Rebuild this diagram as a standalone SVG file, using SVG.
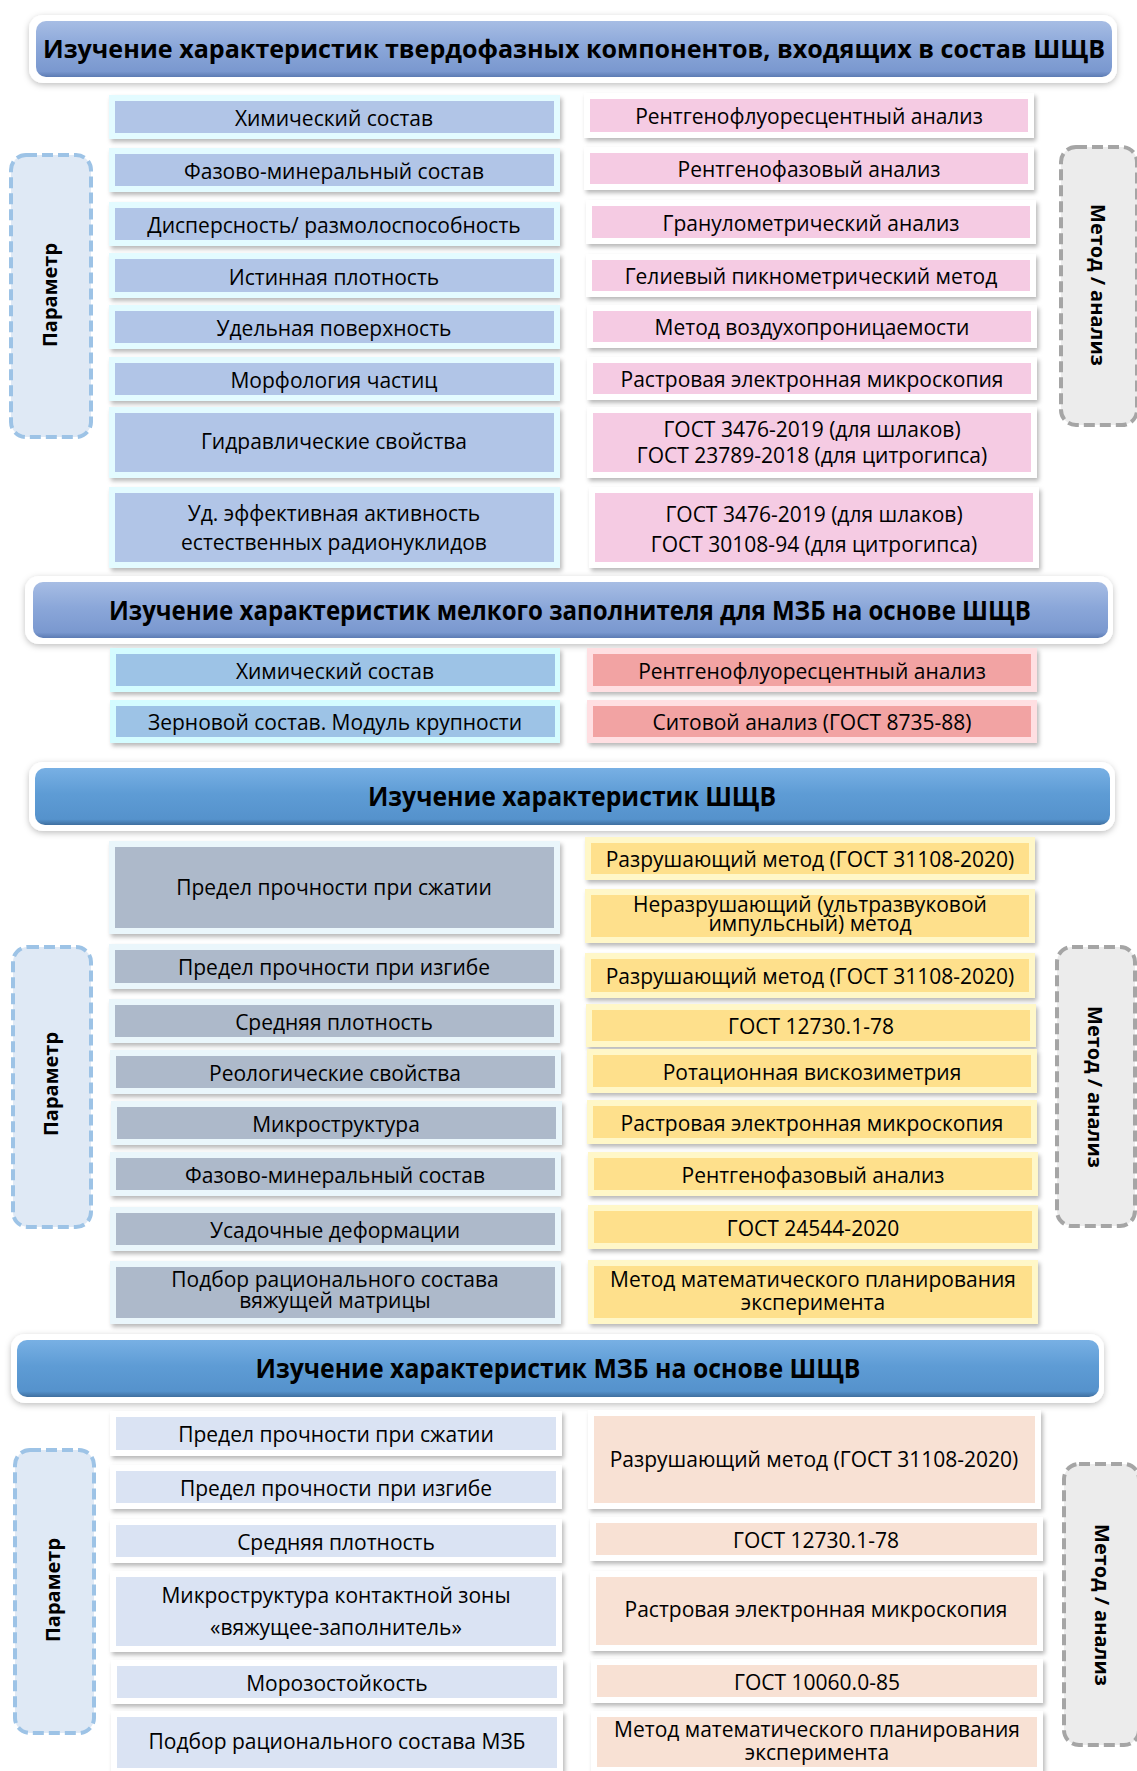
<svg xmlns="http://www.w3.org/2000/svg" width="1137" height="1771" viewBox="0 0 1137 1771">
<defs>
<filter id="sh" x="-5%" y="-30%" width="112%" height="170%"><feDropShadow dx="2" dy="3" stdDeviation="2" flood-color="#000" flood-opacity="0.28"/></filter>
<filter id="tsh" x="-3%" y="-30%" width="106%" height="170%"><feDropShadow dx="0" dy="2" stdDeviation="3" flood-color="#000" flood-opacity="0.25"/></filter>
<linearGradient id="g1" x1="0" y1="0" x2="0" y2="1"><stop offset="0" stop-color="#a7bde4"/><stop offset="0.45" stop-color="#8ba7d9"/><stop offset="0.9" stop-color="#7a98cf"/><stop offset="1" stop-color="#5c7bb3"/></linearGradient>
<linearGradient id="g2" x1="0" y1="0" x2="0" y2="1"><stop offset="0" stop-color="#78b0e4"/><stop offset="0.45" stop-color="#5e9cd5"/><stop offset="0.9" stop-color="#5592cc"/><stop offset="1" stop-color="#3f6f9f"/></linearGradient>
<style>
text{font-family:"Open Sans","Noto Sans","DejaVu Sans",sans-serif;fill:#000}
.t{font-size:21px;text-anchor:middle}
.h{font-size:26px;font-weight:bold;text-anchor:middle}
.v{font-size:20px;font-weight:bold;text-anchor:middle}
.frame{fill:#fff;filter:url(#tsh)}
.fr{filter:url(#sh)}
.dp{fill:#dfe9f5;stroke:#9dc3e6;stroke-width:4;stroke-dasharray:11 5}
.dm{fill:#ececec;stroke:#a5a5a5;stroke-width:4;stroke-dasharray:11 5}
.c1L{fill:#b1c5e7}.o1L{fill:#e3fbff}
.c1R{fill:#f5cbe3}.o1R{fill:#ffffff}
.c2L{fill:#9dc3e6}.o2L{fill:#d4fcff}
.c2R{fill:#f2a3a3}.o2R{fill:#ffdfe2}
.c3L{fill:#adb9ca}.o3L{fill:#eaf6fb}
.c3R{fill:#fee08c}.o3R{fill:#fff7c8}
.c4L{fill:#dae3f3}.o4L{fill:#ffffff}
.c4R{fill:#f8e1d4}.o4R{fill:#ffffff}
</style>
</defs>
<rect width="1137" height="1771" fill="#fff"/>

<!-- Section 1 -->
<g id="title1"><rect class="frame" x="29" y="15" width="1088" height="68" rx="14"/><rect x="36" y="21" width="1076" height="56" rx="10" fill="url(#g1)"/><text class="h" style="font-size:24.5px" x="574" y="58" textLength="1062" lengthAdjust="spacingAndGlyphs">Изучение характеристик твердофазных компонентов, входящих в состав ШЩВ</text></g>

<g id="param1"><rect class="dp" x="11" y="155" width="80" height="282" rx="15"/><text class="v" transform="translate(57,295) rotate(-90)">Параметр</text></g>
<g id="method1"><rect class="dm" x="1061" y="147" width="76" height="278" rx="15"/><text class="v" transform="translate(1091,285) rotate(90)">Метод / анализ</text></g>

<g id="s1l1"><rect class="o1L fr" x="109" y="95" width="451" height="44"/><rect class="c1L" x="115" y="101" width="439" height="32"/><text class="t" x="334" y="126">Химический состав</text></g>
<g id="s1l2"><rect class="o1L fr" x="109" y="148" width="451" height="44"/><rect class="c1L" x="115" y="154" width="439" height="32"/><text class="t" x="334" y="179">Фазово-минеральный состав</text></g>
<g id="s1l3"><rect class="o1L fr" x="109" y="202" width="451" height="44"/><rect class="c1L" x="115" y="208" width="439" height="32"/><text class="t" x="334" y="233">Дисперсность/ размолоспособность</text></g>
<g id="s1l4"><rect class="o1L fr" x="109" y="253" width="451" height="45"/><rect class="c1L" x="115" y="259" width="439" height="33"/><text class="t" x="334" y="285">Истинная плотность</text></g>
<g id="s1l5"><rect class="o1L fr" x="109" y="305" width="451" height="44"/><rect class="c1L" x="115" y="311" width="439" height="32"/><text class="t" x="334" y="336">Удельная поверхность</text></g>
<g id="s1l6"><rect class="o1L fr" x="109" y="357" width="451" height="44"/><rect class="c1L" x="115" y="363" width="439" height="32"/><text class="t" x="334" y="388">Морфология частиц</text></g>
<g id="s1l7"><rect class="o1L fr" x="109" y="407" width="451" height="71"/><rect class="c1L" x="115" y="413" width="439" height="59"/><text class="t" x="334" y="449">Гидравлические свойства</text></g>
<g id="s1l8"><rect class="o1L fr" x="109" y="487" width="451" height="81"/><rect class="c1L" x="115" y="493" width="439" height="69"/><text class="t" x="334" y="521">Уд. эффективная активность</text><text class="t" x="334" y="550">естественных радионуклидов</text></g>

<g id="s1r1"><rect class="o1R fr" x="584" y="93" width="450" height="45"/><rect class="c1R" x="590" y="99" width="438" height="33"/><text class="t" x="809" y="124">Рентгенофлуоресцентный анализ</text></g>
<g id="s1r2"><rect class="o1R fr" x="584" y="147" width="450" height="43"/><rect class="c1R" x="590" y="153" width="438" height="31"/><text class="t" x="809" y="177">Рентгенофазовый анализ</text></g>
<g id="s1r3"><rect class="o1R fr" x="586" y="200" width="450" height="44"/><rect class="c1R" x="592" y="206" width="438" height="32"/><text class="t" x="811" y="231">Гранулометрический анализ</text></g>
<g id="s1r4"><rect class="o1R fr" x="586" y="254" width="450" height="43"/><rect class="c1R" x="592" y="260" width="438" height="31"/><text class="t" x="811" y="284">Гелиевый пикнометрический метод</text></g>
<g id="s1r5"><rect class="o1R fr" x="587" y="305" width="450" height="43"/><rect class="c1R" x="593" y="311" width="438" height="31"/><text class="t" x="812" y="335">Метод воздухопроницаемости</text></g>
<g id="s1r6"><rect class="o1R fr" x="587" y="357" width="450" height="43"/><rect class="c1R" x="593" y="363" width="438" height="31"/><text class="t" x="812" y="387">Растровая электронная микроскопия</text></g>
<g id="s1r7"><rect class="o1R fr" x="587" y="407" width="450" height="71"/><rect class="c1R" x="593" y="413" width="438" height="59"/><text class="t" x="812" y="437">ГОСТ 3476-2019 (для шлаков)</text><text class="t" x="812" y="463">ГОСТ 23789-2018 (для цитрогипса)</text></g>
<g id="s1r8"><rect class="o1R fr" x="589" y="487" width="450" height="81"/><rect class="c1R" x="595" y="493" width="438" height="69"/><text class="t" x="814" y="522">ГОСТ 3476-2019 (для шлаков)</text><text class="t" x="814" y="552">ГОСТ 30108-94 (для цитрогипса)</text></g>

<!-- Section 2 -->
<g id="title2"><rect class="frame" x="25" y="576" width="1088" height="68" rx="14"/><rect x="33" y="582" width="1075" height="56" rx="10" fill="url(#g1)"/><text class="h" x="570" y="620" textLength="922" lengthAdjust="spacingAndGlyphs">Изучение характеристик мелкого заполнителя для МЗБ на основе ШЩВ</text></g>

<g id="s2l1"><rect class="o2L fr" x="110" y="648" width="450" height="44"/><rect class="c2L" x="116" y="654" width="439" height="32"/><text class="t" x="335" y="679">Химический состав</text></g>
<g id="s2l2"><rect class="o2L fr" x="110" y="700" width="450" height="43"/><rect class="c2L" x="116" y="706" width="439" height="31"/><text class="t" x="335" y="730">Зерновой состав. Модуль крупности</text></g>
<g id="s2r1"><rect class="o2R fr" x="587" y="648" width="450" height="44"/><rect class="c2R" x="593" y="654" width="438" height="32"/><text class="t" x="812" y="679">Рентгенофлуоресцентный анализ</text></g>
<g id="s2r2"><rect class="o2R fr" x="587" y="700" width="450" height="43"/><rect class="c2R" x="593" y="706" width="438" height="31"/><text class="t" x="812" y="730">Ситовой анализ (ГОСТ 8735-88)</text></g>

<!-- Section 3 -->
<g id="title3"><rect class="frame" x="29" y="762" width="1086" height="69" rx="14"/><rect x="35" y="768" width="1075" height="57" rx="10" fill="url(#g2)"/><text class="h" x="572" y="806" textLength="408" lengthAdjust="spacingAndGlyphs">Изучение характеристик ШЩВ</text></g>

<g id="param3"><rect class="dp" x="13" y="947" width="78" height="280" rx="15"/><text class="v" transform="translate(58,1084) rotate(-90)">Параметр</text></g>
<g id="method3"><rect class="dm" x="1057" y="947" width="78" height="279" rx="15"/><text class="v" transform="translate(1088,1087) rotate(90)">Метод / анализ</text></g>

<g id="s3l1"><rect class="o3L fr" x="109" y="841" width="451" height="93"/><rect class="c3L" x="115" y="847" width="439" height="81"/><text class="t" x="334" y="895">Предел прочности при сжатии</text></g>
<g id="s3l2"><rect class="o3L fr" x="109" y="944" width="451" height="45"/><rect class="c3L" x="115" y="950" width="439" height="33"/><text class="t" x="334" y="975">Предел прочности при изгибе</text></g>
<g id="s3l3"><rect class="o3L fr" x="109" y="999" width="451" height="44"/><rect class="c3L" x="115" y="1005" width="439" height="32"/><text class="t" x="334" y="1030">Средняя плотность</text></g>
<g id="s3l4"><rect class="o3L fr" x="110" y="1050" width="451" height="44"/><rect class="c3L" x="116" y="1056" width="439" height="32"/><text class="t" x="335" y="1081">Реологические свойства</text></g>
<g id="s3l5"><rect class="o3L fr" x="111" y="1101" width="451" height="44"/><rect class="c3L" x="117" y="1107" width="439" height="32"/><text class="t" x="336" y="1132">Микроструктура</text></g>
<g id="s3l6"><rect class="o3L fr" x="110" y="1152" width="451" height="44"/><rect class="c3L" x="116" y="1158" width="439" height="32"/><text class="t" x="335" y="1183">Фазово-минеральный состав</text></g>
<g id="s3l7"><rect class="o3L fr" x="110" y="1207" width="451" height="44"/><rect class="c3L" x="116" y="1213" width="439" height="32"/><text class="t" x="335" y="1238">Усадочные деформации</text></g>
<g id="s3l8"><rect class="o3L fr" x="110" y="1261" width="451" height="63"/><rect class="c3L" x="116" y="1267" width="439" height="51"/><text class="t" x="335" y="1287">Подбор рационального состава</text><text class="t" x="335" y="1308">вяжущей матрицы</text></g>

<g id="s3r1"><rect class="o3R fr" x="585" y="837" width="450" height="43"/><rect class="c3R" x="591" y="843" width="438" height="31"/><text class="t" x="810" y="867">Разрушающий метод (ГОСТ 31108-2020)</text></g>
<g id="s3r2"><rect class="o3R fr" x="585" y="889" width="450" height="54"/><rect class="c3R" x="591" y="895" width="438" height="42"/><text class="t" x="810" y="912">Неразрушающий (ультразвуковой</text><text class="t" x="810" y="931">импульсный) метод</text></g>
<g id="s3r3"><rect class="o3R fr" x="585" y="953" width="450" height="45"/><rect class="c3R" x="591" y="959" width="438" height="33"/><text class="t" x="810" y="984">Разрушающий метод (ГОСТ 31108-2020)</text></g>
<g id="s3r4"><rect class="o3R fr" x="586" y="1004" width="450" height="43"/><rect class="c3R" x="592" y="1010" width="438" height="31"/><text class="t" x="811" y="1034">ГОСТ 12730.1-78</text></g>
<g id="s3r5"><rect class="o3R fr" x="587" y="1049" width="450" height="44"/><rect class="c3R" x="593" y="1055" width="438" height="32"/><text class="t" x="812" y="1080">Ротационная вискозиметрия</text></g>
<g id="s3r6"><rect class="o3R fr" x="587" y="1100" width="450" height="44"/><rect class="c3R" x="593" y="1106" width="438" height="32"/><text class="t" x="812" y="1131">Растровая электронная микроскопия</text></g>
<g id="s3r7"><rect class="o3R fr" x="588" y="1152" width="450" height="44"/><rect class="c3R" x="594" y="1158" width="438" height="32"/><text class="t" x="813" y="1183">Рентгенофазовый анализ</text></g>
<g id="s3r8"><rect class="o3R fr" x="588" y="1205" width="450" height="44"/><rect class="c3R" x="594" y="1211" width="438" height="32"/><text class="t" x="813" y="1236">ГОСТ 24544-2020</text></g>
<g id="s3r9"><rect class="o3R fr" x="588" y="1260" width="450" height="64"/><rect class="c3R" x="594" y="1266" width="438" height="52"/><text class="t" x="813" y="1287">Метод математического планирования</text><text class="t" x="813" y="1310">эксперимента</text></g>

<!-- Section 4 -->
<g id="title4"><rect class="frame" x="11" y="1334" width="1093" height="69" rx="14"/><rect x="17" y="1340" width="1082" height="57" rx="10" fill="url(#g2)"/><text class="h" x="558" y="1378" textLength="605" lengthAdjust="spacingAndGlyphs">Изучение характеристик МЗБ на основе ШЩВ</text></g>

<g id="param4"><rect class="dp" x="15" y="1450" width="79" height="283" rx="15"/><text class="v" transform="translate(60,1590) rotate(-90)">Параметр</text></g>
<g id="method4"><rect class="dm" x="1064" y="1464" width="75" height="281" rx="15"/><text class="v" transform="translate(1095,1605) rotate(90)">Метод / анализ</text></g>

<g id="s4l1"><rect class="o4L fr" x="110" y="1411" width="452" height="45"/><rect class="c4L" x="116" y="1417" width="440" height="33"/><text class="t" x="336" y="1442">Предел прочности при сжатии</text></g>
<g id="s4l2"><rect class="o4L fr" x="110" y="1465" width="452" height="44"/><rect class="c4L" x="116" y="1471" width="440" height="32"/><text class="t" x="336" y="1496">Предел прочности при изгибе</text></g>
<g id="s4l3"><rect class="o4L fr" x="110" y="1519" width="452" height="44"/><rect class="c4L" x="116" y="1525" width="440" height="32"/><text class="t" x="336" y="1550">Средняя плотность</text></g>
<g id="s4l4"><rect class="o4L fr" x="110" y="1571" width="452" height="81"/><rect class="c4L" x="116" y="1577" width="440" height="69"/><text class="t" x="336" y="1603">Микроструктура контактной зоны</text><text class="t" x="336" y="1635">«вяжущее-заполнитель»</text></g>
<g id="s4l5"><rect class="o4L fr" x="111" y="1660" width="452" height="44"/><rect class="c4L" x="117" y="1666" width="440" height="32"/><text class="t" x="337" y="1691">Морозостойкость</text></g>
<g id="s4l6"><rect class="o4L fr" x="111" y="1711" width="452" height="63"/><rect class="c4L" x="117" y="1717" width="440" height="51"/><text class="t" x="337" y="1749">Подбор рационального состава МЗБ</text></g>

<g id="s4r1"><rect class="o4R fr" x="588" y="1410" width="453" height="99"/><rect class="c4R" x="594" y="1416" width="441" height="87"/><text class="t" x="814" y="1467">Разрушающий метод (ГОСТ 31108-2020)</text></g>
<g id="s4r2"><rect class="o4R fr" x="590" y="1517" width="453" height="44"/><rect class="c4R" x="596" y="1523" width="441" height="32"/><text class="t" x="816" y="1548">ГОСТ 12730.1-78</text></g>
<g id="s4r3"><rect class="o4R fr" x="590" y="1571" width="453" height="80"/><rect class="c4R" x="596" y="1577" width="441" height="68"/><text class="t" x="816" y="1617">Растровая электронная микроскопия</text></g>
<g id="s4r4"><rect class="o4R fr" x="591" y="1659" width="452" height="44"/><rect class="c4R" x="597" y="1665" width="440" height="32"/><text class="t" x="817" y="1690">ГОСТ 10060.0-85</text></g>
<g id="s4r5"><rect class="o4R fr" x="591" y="1711" width="452" height="62"/><rect class="c4R" x="597" y="1717" width="440" height="50"/><text class="t" x="817" y="1737">Метод математического планирования</text><text class="t" x="817" y="1760">эксперимента</text></g>

<g id="connectors"></g>
</svg>
